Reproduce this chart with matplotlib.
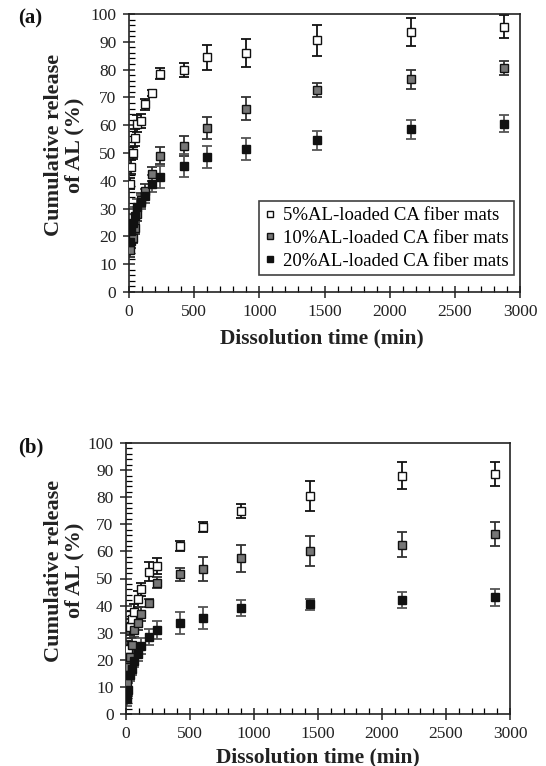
import matplotlib
matplotlib.use("Agg")
import matplotlib.pyplot as plt
from matplotlib.ticker import MultipleLocator

plt.rcParams['font.family'] = ['Liberation Serif', 'DejaVu Serif']

W, H = 546, 766

time_min = [5, 15, 30, 45, 60, 90, 120, 180, 240, 420, 600, 900, 1440, 2160, 2880]

# panel (a)
a_5 = [39, 45, 50, 55.5, 60.5, 61.5, 67.5, 71.5, 78.5, 80, 84.5, 86, 90.5, 93.5, 95.5]
a_5_err = [2, 2.5, 2, 3, 3, 2.5, 2, 1, 2, 2.5, 4.5, 5, 5.5, 5, 4]
a_10 = [15, 18.5, 19.5, 23, 28, 33, 36.5, 42.5, 49, 52.5, 59, 66, 72.5, 76.5, 80.5]
a_10_err = [2.5, 2.5, 2, 2, 2.5, 2.5, 2.5, 2.5, 3, 3.5, 4, 4, 2.5, 3.5, 2.5]
a_20 = [18, 22, 25, 27.5, 30.5, 32.5, 34.5, 39, 41.5, 45.5, 48.5, 51.5, 54.5, 58.5, 60.5]
a_20_err = [3, 3, 3, 3, 3, 2.5, 2.5, 3, 4, 4, 4, 4, 3.5, 3.5, 3]

# panel (b)
b_5 = [16, 24, 32, 35, 37.5, 42.5, 46, 52.5, 54.5, 62, 69, 75, 80.5, 88, 88.5]
b_5_err = [2.5, 3, 3, 3, 3, 3, 2.5, 3.5, 3, 2, 2, 2.5, 5.5, 5, 4.5]
b_10 = [11.5, 17.5, 21, 25.5, 31, 33.5, 37, 41, 48.5, 51.5, 53.5, 57.5, 60, 62.5, 66.5]
b_10_err = [2, 2.5, 2.5, 2.5, 2.5, 2.5, 2.5, 1.5, 2, 2.5, 4.5, 5, 5.5, 4.5, 4.5]
b_20 = [5.5, 9, 14.5, 16.5, 19.5, 22, 25, 28.5, 31, 33.5, 35.5, 39, 40.5, 42, 43]
b_20_err = [2.5, 2.5, 2.5, 2, 2, 2.5, 3, 3, 3.5, 4, 4, 3, 2, 3, 3]

labels = ['5%AL-loaded CA fiber mats', '10%AL-loaded CA fiber mats',
          '20%AL-loaded CA fiber mats']
fills = ['white', '#767676', '#111111']
err_cols = ['#111111', '#333333', '#555555']


def px_axes(fig, left, right, top, bottom):
    return fig.add_axes([left / W, 1 - bottom / H, (right - left) / W, (bottom - top) / H])


def draw_panel(ax, series, errs, legend=False):
    handles = []
    for y, e, fc, ec, lab in zip(series, errs, fills, err_cols, labels):
        ax.errorbar(time_min, y, yerr=e, fmt='none', ecolor=ec, elinewidth=1.3,
                    capsize=3.5, capthick=1.3, zorder=2)
        h = ax.plot(time_min, y, 's', ms=6, mfc=fc, mec='#111111', mew=1.0,
                    ls='none', label=lab, zorder=3)[0]
        handles.append(h)
    ax.set_xlim(0, 3000)
    ax.set_ylim(0, 100)
    ax.xaxis.set_major_locator(MultipleLocator(500))
    ax.xaxis.set_minor_locator(MultipleLocator(100))
    ax.yaxis.set_major_locator(MultipleLocator(10))
    ax.yaxis.set_minor_locator(MultipleLocator(2))
    ax.tick_params(which='major', direction='inout', length=8, width=1.1,
                   labelsize=12.5, colors='#222222', pad=5)
    ax.tick_params(which='minor', direction='in', length=4, width=0.9)
    ax.tick_params(top=False, right=False)
    for s in ax.spines.values():
        s.set_linewidth(1.2)
        s.set_color('#222222')
    if legend:
        leg = ax.legend(handles=handles, loc='lower right',
                        bbox_to_anchor=(0.985, 0.06), fontsize=13.5, frameon=True,
                        fancybox=False, edgecolor='#111111', handlelength=0.6,
                        handletextpad=0.4, borderpad=0.3, labelspacing=0.3,
                        markerscale=0.8, borderaxespad=0)
        leg.get_frame().set_linewidth(1.2)


fig = plt.figure(figsize=(W / 100, H / 100), dpi=100)

ax_a = px_axes(fig, 129, 520, 14, 292)
draw_panel(ax_a, [a_5, a_10, a_20], [a_5_err, a_10_err, a_20_err], legend=True)

ax_b = px_axes(fig, 126, 510, 443, 714)
draw_panel(ax_b, [b_5, b_10, b_20], [b_5_err, b_10_err, b_20_err])

ylab = 'Cumulative release\nof AL (%)'
for ytop, ybot, tag in [(14, 292, '(a)'), (443, 714, '(b)')]:
    mid = (ytop + ybot) / 2
    fig.text(64 / W, 1 - (mid - 8) / H, ylab, rotation=90, ha='center', va='center',
             fontsize=16, fontweight='bold', linespacing=1.0, color='#222222')
    fig.text(18 / W, 1 - (ytop + 4) / H, tag, ha='left', va='center',
             fontsize=15, fontweight='bold', color='#111111')

fig.text(322 / W, 1 - 338 / H, 'Dissolution time (min)', ha='center', va='center',
         fontsize=15.5, fontweight='bold', color='#222222')
fig.text(318 / W, 1 - 757 / H, 'Dissolution time (min)', ha='center', va='center',
         fontsize=15.5, fontweight='bold', color='#222222')

fig.savefig('out.png', dpi=100)
